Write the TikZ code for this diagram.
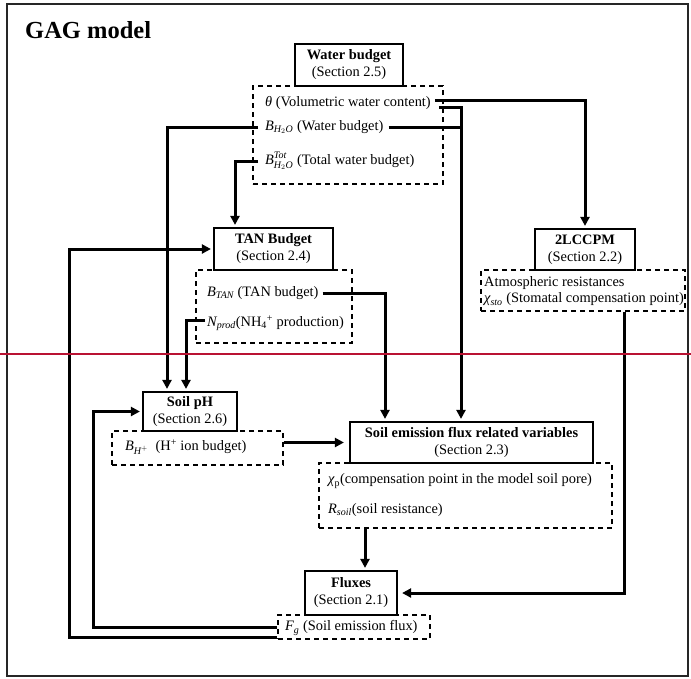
\documentclass[tikz,border=0pt]{standalone}
\usepackage{amsmath}
\usepackage{fontspec}
\setmainfont{Liberation Serif}
\usetikzlibrary{arrows.meta}
\definecolor{redline}{RGB}{185,18,50}
\newcommand\myit[1]{\textit{#1}}
\begin{document}
\begin{tikzpicture}[x=1pt,y=-1pt,
  every node/.style={font=\fontsize{14.4}{17}\selectfont, inner sep=0pt},
  hbox/.style={draw, line width=2.2pt, align=center, fill=white},
  dbox/.style={draw, line width=1.3pt, dash pattern=on 5pt off 4pt},
  item/.style={anchor=west},
  conn/.style={line width=3pt},
  arr/.style={conn, -{Triangle[length=9pt,width=9pt]}, shorten >=2pt}]
\useasboundingbox (0,0) rectangle (691,678);
\draw[line width=1.2pt, black!85] (7,4) rectangle (688,676);
\node[anchor=base west, font=\fontsize{24.5}{28}\selectfont\bfseries] (title) at (25,38) {GAG model};

% dashed boxes
\node[dbox, minimum width=190pt, minimum height=98pt] (waterd) at (348,135) {};
\node[dbox, minimum width=156pt, minimum height=73pt] (tand) at (274,306.5) {};
\node[dbox, minimum width=204pt, minimum height=41pt] (lccpmd) at (583,290.5) {};
\node[dbox, minimum width=171pt, minimum height=34pt] (phd) at (197.5,448) {};
\node[dbox, minimum width=293pt, minimum height=65pt] (semfd) at (465.5,495.5) {};
\node[dbox, minimum width=152pt, minimum height=24pt] (fluxd) at (354,627) {};

% solid boxes
\node[hbox, minimum width=108pt, minimum height=42pt] (water) at (349,65) {\textbf{Water budget}\\(Section 2.5)};
\node[hbox, minimum width=119pt, minimum height=42pt] (tan) at (273.5,249) {\textbf{TAN Budget}\\(Section 2.4)};
\node[hbox, minimum width=100pt, minimum height=41pt] (lccpm) at (585,249.5) {\textbf{2LCCPM}\\(Section 2.2)};
\node[hbox, minimum width=94pt, minimum height=39pt] (ph) at (190,411.5) {\textbf{Soil pH}\\(Section 2.6)};
\node[hbox, minimum width=243pt, minimum height=41pt] (semf) at (471.5,442.5) {\textbf{Soil emission flux related variables}\\(Section 2.3)};
\node[hbox, minimum width=92pt, minimum height=44pt] (flux) at (351,593) {\textbf{Fluxes}\\(Section 2.1)};

% items
\node[item] (theta) at (265,103) {\myit{θ} (Volumetric water content)};
\node[item] (bh2o) at (265,127) {$\myit{B}_{\myit{H}_2\myit{O}}$ (Water budget)};
\node[item] (btot) at (265,161) {$\myit{B}^{\myit{Tot}}_{\myit{H}_2\myit{O}}$ (Total water budget)};
\node[item] (btan) at (207,293) {$\myit{B}_{\myit{TAN}}$ (TAN budget)};
\node[item] (nprod) at (207,323) {$\myit{N}_{\myit{prod}}$(NH\textsubscript{4}\textsuperscript{+} production)};
\node[item] (atm) at (484,283) {Atmospheric resistances};
\node[item] (chisto) at (484,299) {$\myit{χ}_{\myit{sto}}$ (Stomatal compensation point)};
\node[item] (bhp) at (125,447) {$\myit{B}_{\myit{H}^{+}}$ \ (H\textsuperscript{+} ion budget)};
\node[item] (chip) at (328,481) {$\myit{χ}_{\text{p}}$(compensation point in the model soil pore)};
\node[item] (rsoil) at (328,510) {$\myit{R}_{\myit{soil}}$(soil resistance)};
\node[item] (fg) at (285,628) {$\myit{F}_{\myit{g}}$ (Soil emission flux)};

% connectors
\coordinate (sv) at ([xshift=-10.5pt]semf.north);
\draw[arr] ([xshift=4pt,yshift=3pt]theta.east) -| (lccpm.north);
\draw[arr] ([xshift=8pt,yshift=-4pt]theta.east) -| (sv);
\draw[conn] ([xshift=5pt]bh2o.east) -- (bh2o.east -| sv);
\draw[arr] ([xshift=-7pt]bh2o.west) -| ([xshift=-23pt]ph.north);
\draw[arr] ([xshift=-7pt]btot.west) -| ([xshift=-38.5pt]tan.north);
\draw[arr] ([xshift=4pt]btan.east) -| ([xshift=-86.5pt]semf.north);
\draw[arr] ([xshift=-2pt,yshift=3pt]nprod.west) -| ([xshift=-4pt]ph.north);
\draw[arr] (phd.east |- semf.west) -- ([xshift=-3pt]semf.west);
\draw[arr] ([xshift=41pt]lccpmd.south) |- ([xshift=2pt]flux.east);
\coordinate (fn) at ([xshift=14pt]flux.north);
\draw[arr] (fn |- semfd.south) -- (fn);
\coordinate (k1) at (93,0);
\coordinate (k2) at (69,0);
\draw[arr] (fluxd.west) -- (fluxd.west -| k1) |- (ph.west);
\coordinate (fl) at ([yshift=-10pt]fluxd.west);
\draw[arr] (fl) -- (fl -| k2) |- (tan.west);

\draw[line width=2.2pt, redline] (0,354) -- (691,354);
\end{tikzpicture}
\end{document}
